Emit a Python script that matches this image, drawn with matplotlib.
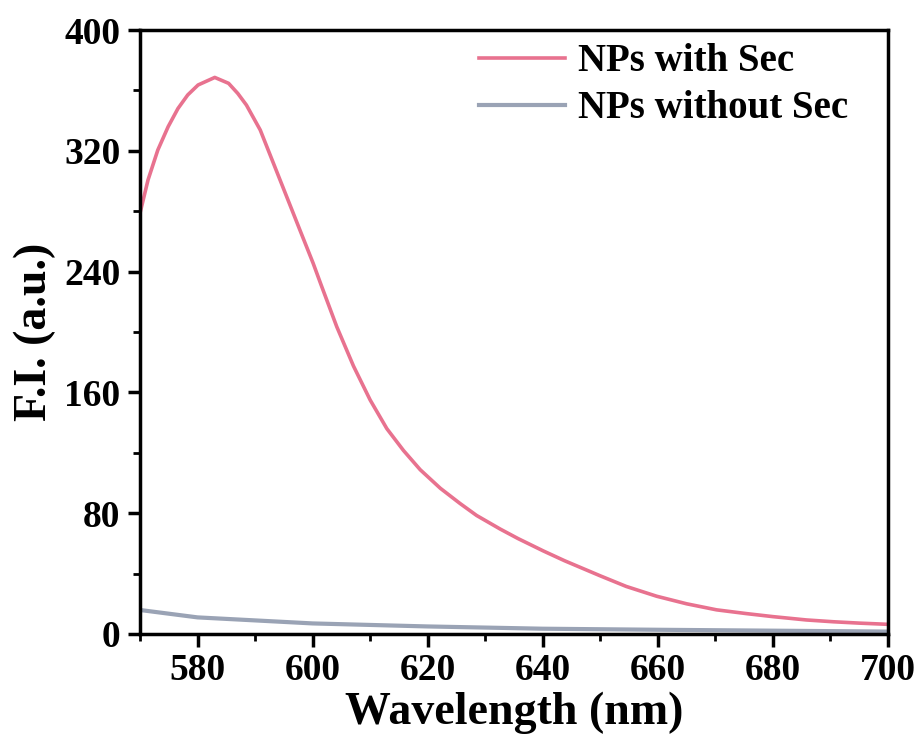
import matplotlib.pyplot as plt
from matplotlib.ticker import MultipleLocator

plt.rcParams["font.family"] = ["Liberation Serif", "DejaVu Serif"]
plt.rcParams["font.weight"] = "bold"

# Spectra
wl_sec = [570, 571.4, 573.1, 574.9, 576.6, 578.3, 580.1, 583, 585.4, 587.0,
          588.5, 590.9, 593.2, 595.5, 597.8, 600.1, 601.5, 604.2, 607.1,
          610, 612.9, 615.8, 618.7, 622.2, 625.6, 628.5, 632.6, 635.7,
          640.1, 643.8, 650, 654.5, 659.8, 665, 670.2, 675.4, 680, 685.8,
          690.5, 695, 700]
fi_sec = [278.6, 300.7, 320.5, 336, 348, 357, 363.6, 368.6, 364.7, 358,
          350.3, 333.8, 311.7, 289.6, 267.5, 245.5, 231, 203.5, 177.5,
          155, 136, 121.5, 108.8, 96.5, 86.5, 78.5, 69.5, 63.2,
          55, 48.5, 38.5, 31.5, 25, 20, 16, 13.5, 11.5, 9.3,
          8.1, 7.2, 6.4]

wl_nosec = [570, 580, 590, 600, 620, 640, 660, 680, 700]
fi_nosec = [15.9, 11, 9, 7, 5, 3.5, 2.8, 2.2, 1.6]

fig = plt.figure(figsize=(9.19, 7.45), dpi=100)
ax = fig.add_axes([0.1523, 0.149, 0.814, 0.8107])

ax.plot(wl_sec, fi_sec, color="#E8728F", lw=2.6, label="NPs with Sec",
        solid_joinstyle="round")
ax.plot(wl_nosec, fi_nosec, color="#9AA3B5", lw=3, label="NPs without Sec",
        solid_joinstyle="round")

ax.set_xlim(570, 700)
ax.set_ylim(0, 400)
ax.xaxis.set_major_locator(MultipleLocator(20))
ax.xaxis.set_minor_locator(MultipleLocator(10))
ax.yaxis.set_major_locator(MultipleLocator(80))
ax.yaxis.set_minor_locator(MultipleLocator(40))

for s in ax.spines.values():
    s.set_linewidth(2.5)
ax.tick_params(which="major", direction="out", length=9, width=2.5,
               labelsize=27, pad=5)
ax.tick_params(which="minor", direction="out", length=5, width=2)

ax.set_xlabel("Wavelength (nm)", fontsize=33, fontweight="bold", labelpad=2)
ax.set_ylabel("F.I. (a.u.)", fontsize=33, fontweight="bold", labelpad=6)

# legend sits a bit left of the right spine, as in the original
ax.legend(loc="upper right", bbox_to_anchor=(0.973, 1.01), frameon=False,
          fontsize=28, handlelength=2.2, labelspacing=0.25,
          borderaxespad=0.3, handletextpad=0.35, borderpad=0.2)

fig.savefig("out.png", dpi=100, facecolor="white")
